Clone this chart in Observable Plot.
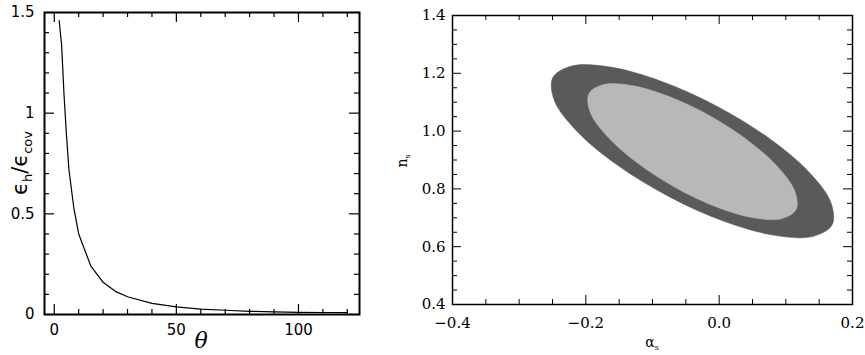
<!DOCTYPE html>
<html><head><meta charset="utf-8">
<script src="https://cdn.jsdelivr.net/npm/d3@7"></script>
<script src="https://cdn.jsdelivr.net/npm/@observablehq/plot@0.6"></script>
<style>
body{margin:0;background:#fff;}
#wrap{position:relative;width:865px;height:355px;overflow:hidden;}
#left{position:absolute;left:0;top:0;}
#right{position:absolute;left:375px;top:0;}
</style></head><body>
<div id="wrap"><div id="left"></div><div id="right"></div></div>
<script>
// ---- Left panel data: eps_h / eps_cov versus theta ----
const theta = [2,3,4,5,6,8,10,15,20,25,30,40,50,60,70,80,90,100,110,120];
const ratio = [1.46,1.34,1.09,0.89,0.72,0.53,0.40,0.24,0.16,0.115,0.088,0.055,0.038,0.027,0.021,0.016,0.013,0.011,0.010,0.009];
const leftXTicks = [0,50,100];
const leftXLabels = ["0","50","100"];
const leftXMinor = [10,20,30,40,60,70,80,90,110,120];
const leftYTicks = [0,0.5,1,1.5];
const leftYLabels = ["0","0.5","1","1.5"];
const leftYMinor = [0.1,0.2,0.3,0.4,0.6,0.7,0.8,0.9,1.1,1.2,1.3,1.4];

// ---- Right panel data: contour boundaries in (alpha_s, n_s) ----
const outerAlpha = [0.1695,0.1399,0.0828,0.0071,-0.0758,-0.1533,-0.2135,-0.2473,-0.2495,-0.2199,-0.1628,-0.0871,-0.0042,0.0733,0.1335,0.1673];
const outerN     = [0.6756,0.6350,0.6394,0.6881,0.7737,0.8832,0.9998,1.1059,1.1852,1.2258,1.2214,1.1727,1.0871,0.9776,0.8610,0.7549];
const innerAlpha = [0.1154,0.0934,0.0511,-0.0051,-0.0666,-0.1240,-0.1687,-0.1937,-0.1954,-0.1734,-0.1311,-0.0749,-0.0134,0.0440,0.0887,0.1137];
const innerN     = [0.7287,0.6968,0.7003,0.7385,0.8058,0.8919,0.9836,1.0669,1.1293,1.1612,1.1577,1.1195,1.0522,0.9661,0.8744,0.7911];
const rightXTicks = [-0.4,-0.2,0.0,0.2];
const rightXLabels = ["\u22120.4","\u22120.2","0.0","0.2"];
const rightXMinor = [-0.35,-0.3,-0.25,-0.15,-0.1,-0.05,0.05,0.1,0.15];
const rightYTicks = [0.4,0.6,0.8,1.0,1.2,1.4];
const rightYLabels = ["0.4","0.6","0.8","1.0","1.2","1.4"];
const rightYMinor = [0.45,0.5,0.55,0.65,0.7,0.75,0.85,0.9,0.95,1.05,1.1,1.15,1.25,1.3,1.35];

function mirrorTicks(xMaj, xMin, yMaj, yMin, innerW, innerH, lenMaj, lenMin, sw) {
  const o = {stroke: "black", strokeWidth: sw};
  const f = d => d;
  return [
    Plot.tickX(xMaj, {x: f, insetTop: innerH - lenMaj, ...o}),
    Plot.tickX(xMaj, {x: f, insetBottom: innerH - lenMaj, ...o}),
    Plot.tickX(xMin, {x: f, insetTop: innerH - lenMin, ...o}),
    Plot.tickX(xMin, {x: f, insetBottom: innerH - lenMin, ...o}),
    Plot.tickY(yMaj, {y: f, insetRight: innerW - lenMaj, ...o}),
    Plot.tickY(yMaj, {y: f, insetLeft: innerW - lenMaj, ...o}),
    Plot.tickY(yMin, {y: f, insetRight: innerW - lenMin, ...o}),
    Plot.tickY(yMin, {y: f, insetLeft: innerW - lenMin, ...o})
  ];
}

// ---- Left plot ----
{
  const W = 370, H = 355, mt = 12, mr = 11, mb = 41, ml = 44;
  const iw = W - ml - mr, ih = H - mt - mb;
  const xl = new Map(leftXTicks.map((v,i)=>[v,leftXLabels[i]]));
  const yl = new Map(leftYTicks.map((v,i)=>[v,leftYLabels[i]]));
  const data = theta.map((t,i)=>({t, r: ratio[i]}));
  const p = Plot.plot({
    width: W, height: H, marginTop: mt, marginRight: mr, marginBottom: mb, marginLeft: ml,
    style: {fontFamily: "DejaVu Sans", fontSize: "15px", color: "black", background: "white"},
    x: {domain: [-4, 125]},
    y: {domain: [0, 1.5]},
    marks: [
      Plot.line(data, {x: "t", y: "r", stroke: "black", strokeWidth: 1.2}),
      ...mirrorTicks(leftXTicks, leftXMinor, leftYTicks, leftYMinor, iw, ih, 10, 5, 1.2),
      Plot.axisX(leftXTicks, {tickSize: 0, tickPadding: 10, tickFormat: d => xl.get(d), label: null}),
      Plot.axisY(leftYTicks, {tickSize: 0, tickPadding: 10, tickFormat: d => yl.get(d), label: null}),
      Plot.frame({stroke: "black", strokeWidth: 2})
    ]
  });
  document.getElementById("left").append(p);
  const svg = d3.select(p);
  const lab = svg.append("text")
    .attr("transform", "translate(27,163) rotate(-90)")
    .attr("text-anchor", "middle")
    .style("font-family", "DejaVu Sans").style("font-size", "21px").attr("fill", "black");
  lab.append("tspan").text("\u03F5");
  lab.append("tspan").attr("dy", 5).style("font-size", "13px").text("h");
  lab.append("tspan").attr("dy", -5).text("/");
  lab.append("tspan").text("\u03F5");
  lab.append("tspan").attr("dy", 5).style("font-size", "13px").text("cov");
  svg.append("text").attr("x", 201).attr("y", 348).attr("text-anchor", "middle")
    .style("font-family", "DejaVu Serif").style("font-style", "italic").style("font-size", "22px")
    .attr("fill", "black").text("\u03B8");
}

// ---- Right plot ----
{
  const W = 490, H = 355, mt = 15, mr = 13, mb = 51, ml = 77;
  const iw = W - ml - mr, ih = H - mt - mb;
  const xl = new Map(rightXTicks.map((v,i)=>[v,rightXLabels[i]]));
  const yl = new Map(rightYTicks.map((v,i)=>[v,rightYLabels[i]]));
  const outer = outerAlpha.map((a,i)=>({a, n: outerN[i]}));
  const inner = innerAlpha.map((a,i)=>({a, n: innerN[i]}));
  const p = Plot.plot({
    width: W, height: H, marginTop: mt, marginRight: mr, marginBottom: mb, marginLeft: ml,
    style: {fontFamily: "DejaVu Serif", fontSize: "15px", color: "black", background: "white"},
    x: {domain: [-0.4, 0.2]},
    y: {domain: [0.4, 1.4]},
    marks: [
      Plot.line(outer, {x: "a", y: "n", curve: "catmull-rom-closed", fill: "#5a5a5a", stroke: "#5a5a5a", strokeWidth: 0.5}),
      Plot.line(inner, {x: "a", y: "n", curve: "catmull-rom-closed", fill: "#b8b8b8", stroke: "#b8b8b8", strokeWidth: 0.5}),
      ...mirrorTicks(rightXTicks, rightXMinor, rightYTicks, rightYMinor, iw, ih, 9, 5, 1),
      Plot.axisX(rightXTicks, {tickSize: 0, tickPadding: 13, tickFormat: d => xl.get(d), label: null}),
      Plot.axisY(rightYTicks, {tickSize: 0, tickPadding: 7, tickFormat: d => yl.get(d), label: null}),
      Plot.frame({stroke: "black", strokeWidth: 1.5})
    ]
  });
  document.getElementById("right").append(p);
  const svg = d3.select(p);
  const ny = svg.append("text")
    .attr("transform", "translate(32,161) rotate(-90)")
    .attr("text-anchor", "middle")
    .style("font-family", "DejaVu Serif").style("font-size", "14px").attr("fill", "black");
  ny.append("tspan").text("n");
  ny.append("tspan").attr("dy", 3).style("font-size", "8px").text("s");
  const ax = svg.append("text")
    .attr("x", 277).attr("y", 347).attr("text-anchor", "middle")
    .style("font-family", "DejaVu Serif").style("font-size", "14px").attr("fill", "black");
  ax.append("tspan").text("\u03B1");
  ax.append("tspan").attr("dy", 3).style("font-size", "8px").text("s");
}
</script>
</body></html>
